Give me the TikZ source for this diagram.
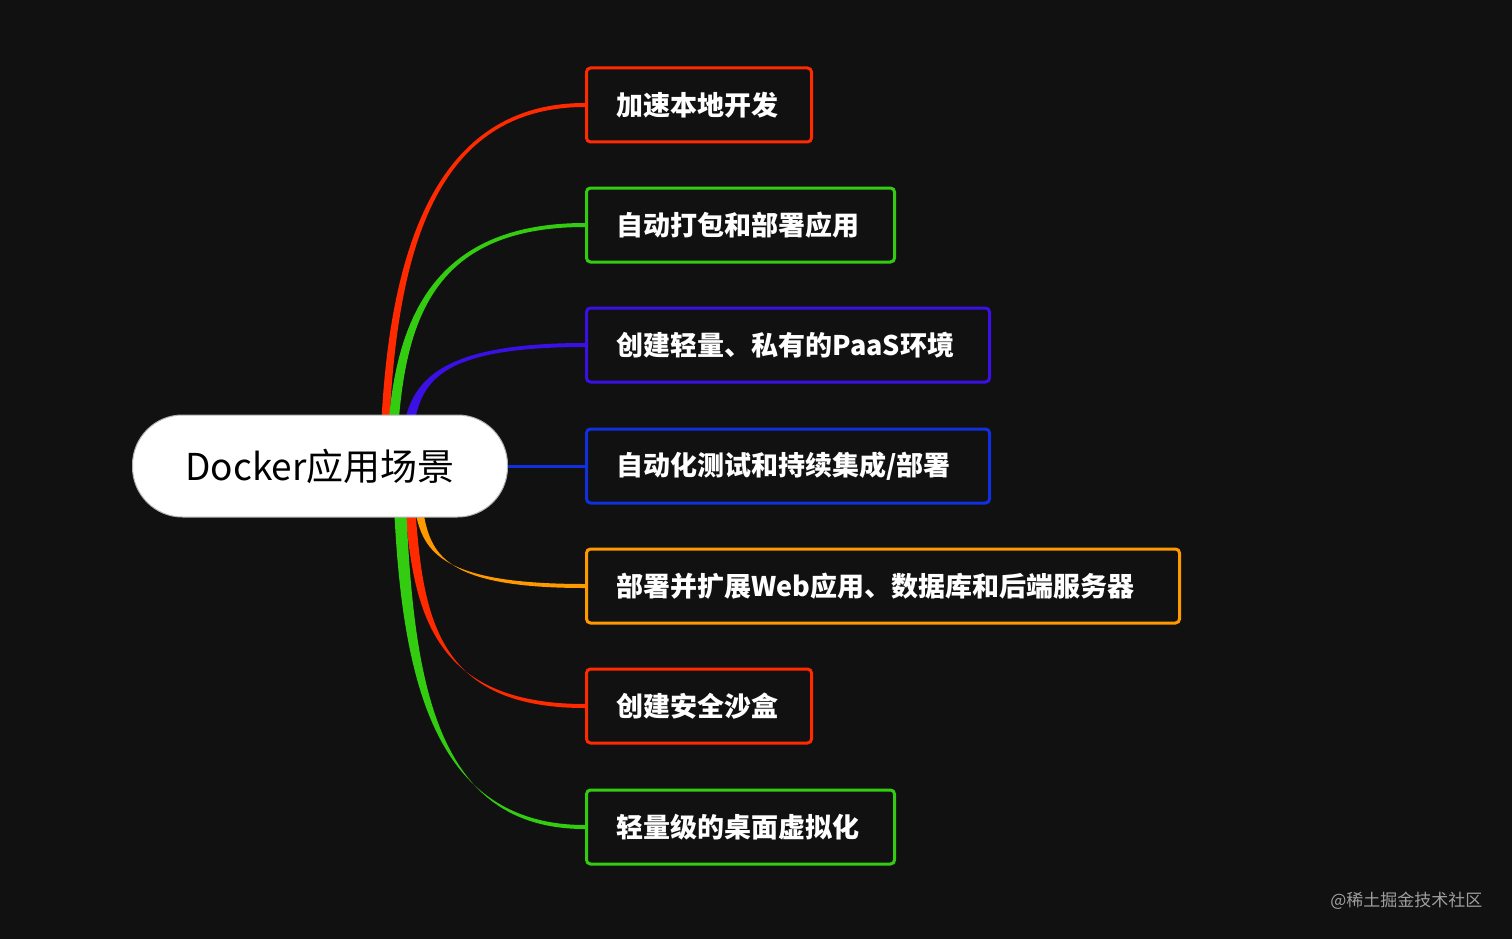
\documentclass[tikz,border=0pt]{standalone}
\usepackage{fontspec}
\setmainfont{Noto Sans CJK SC}
\usetikzlibrary{calc}
\definecolor{cR}{HTML}{FF2A00}
\definecolor{cG}{HTML}{33CC11}
\definecolor{cP}{HTML}{3A10E5}
\definecolor{cB}{HTML}{1030E0}
\definecolor{cO}{HTML}{FF9900}
\definecolor{bg}{HTML}{111111}
\tikzset{
  leaf/.style={draw=#1, line width=3pt, fill=bg, rounded corners=4pt, anchor=west,
    minimum height=74pt, inner xsep=30pt, align=left, text=white,
    font=\fontsize{27}{30}\selectfont\bfseries},
}
\newcommand{\branch}[4]{%
  \fill[#1] let \p1=(#2), \p2=(#3.west) in
   (\x1-#4pt,\y1) .. controls (\x1-#4pt+8pt,0.45*\y1+0.55*\y2) and (\x2-150pt,\y2+2pt) .. (\x2,\y2+2pt)
   -- (\x2,\y2-2pt) .. controls (\x2-150pt,\y2-2pt) and (\x1+#4pt+8pt,0.45*\y1+0.55*\y2) .. (\x1+#4pt,\y1) -- cycle;}
\begin{document}
\begin{tikzpicture}[x=1pt,y=-1pt]
\fill[bg] (0,0) rectangle (1512,939);
\useasboundingbox (0,0) rectangle (1512,939);
\node[leaf=cR, text width=165pt] (b1) at (585,105) {加速本地开发};
\node[leaf=cG, text width=248pt] (b2) at (585,225) {自动打包和部署应用};
\node[leaf=cP, text width=343pt] (b3) at (585,345) {创建轻量、私有的PaaS环境};
\node[leaf=cB, text width=343pt] (b4) at (585,466) {自动化测试和持续集成/部署};
\node[leaf=cO, text width=533pt] (b5) at (585,586) {部署并扩展Web应用、数据库和后端服务器};
\node[leaf=cR, text width=165pt] (b6) at (585,706) {创建安全沙盒};
\node[leaf=cG, text width=248pt] (b7) at (585,827) {轻量级的桌面虚拟化};
\coordinate (s1) at (385,430);
\coordinate (s2) at (393,430);
\coordinate (s3) at (408,430);
\coordinate (s5) at (418,505);
\coordinate (s6) at (410,505);
\coordinate (s7) at (400,505);
\branch{cR}{s1}{b1}{4}
\branch{cG}{s2}{b2}{5}
\branch{cP}{s3}{b3}{5}
\branch{cO}{s5}{b5}{4}
\branch{cR}{s6}{b6}{5}
\branch{cG}{s7}{b7}{6}
\node[draw=gray!60, line width=1pt, fill=white, rounded corners=50pt, minimum width=375pt, minimum height=102pt,
  font=\fontsize{37}{40}\selectfont] (c) at (320,466) {Docker应用场景};
\draw[cB, line width=3pt] (c.east) -- (b4.west);
\node[anchor=east, text=gray!75, font=\fontsize{17}{20}\selectfont] (wm) at (1486,901) {@稀土掘金技术社区};
\end{tikzpicture}
\end{document}
